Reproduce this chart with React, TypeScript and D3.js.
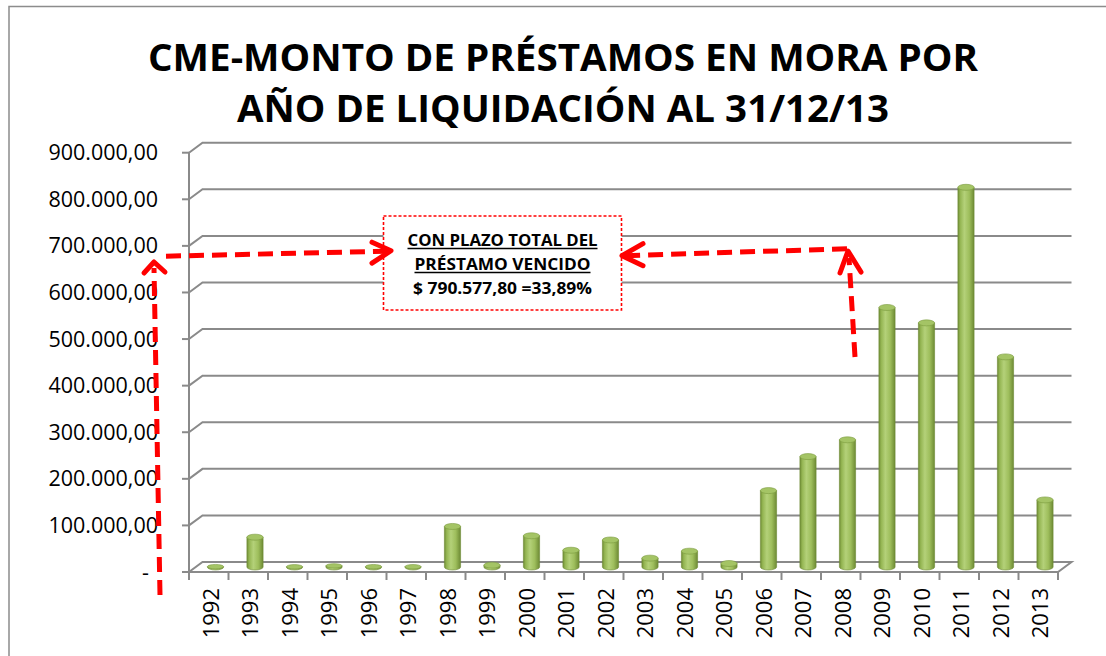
import { useRef, useEffect } from 'react';
import * as d3 from 'd3';

const years = [
  '1992', '1993', '1994', '1995', '1996', '1997', '1998', '1999', '2000', '2001', '2002',
  '2003', '2004', '2005', '2006', '2007', '2008', '2009', '2010', '2011', '2012', '2013',
];
const montos = [
  800, 64000, 500, 2500, 700, 600, 87000, 4000, 67000, 36000, 58000,
  19000, 34000, 7500, 164000, 237000, 273000, 557000, 524000, 815000, 451000, 144000,
];
const yTicks = [0, 100000, 200000, 300000, 400000, 500000, 600000, 700000, 800000, 900000];
const titleLines = ['CME-MONTO DE PRÉSTAMOS EN MORA POR', 'AÑO DE LIQUIDACIÓN AL 31/12/13'];
const noteLines = ['CON PLAZO TOTAL DEL', 'PRÉSTAMO VENCIDO', '$ 790.577,80 =33,89%'];

const W = 1106;
const H = 656;
const FONT = "'Open Sans', 'Noto Sans', sans-serif";

const es = d3.formatLocale({ decimal: ',', thousands: '.', grouping: [3], currency: ['$', ''] });
const fmt = (v: number) => (v === 0 ? '-' : es.format(',.2f')(v));

export default function App() {
  const svgRef = useRef<SVGSVGElement>(null);

  useEffect(() => {
    if (!svgRef.current) return;
    const svg = d3.select(svgRef.current);
    svg.selectAll('*').remove();

    // plot geometry (front face) and 3D depth offset
    const left = 189;
    const right = 1058;
    const bottom = 572;
    const top = 152.7;
    const depthX = 13.5;
    const depthY = -10;

    const x = d3.scaleBand().domain(years).range([left, right]);
    const y = d3.scaleLinear().domain([0, 900000]).range([bottom, top]);

    // outer chart border
    svg.append('rect')
      .attr('x', 9).attr('y', 6.5).attr('width', W).attr('height', H)
      .attr('fill', 'none').attr('stroke', '#8c8c8c').attr('stroke-width', 1.5);

    // title
    svg.append('g').selectAll('text')
      .data(titleLines)
      .enter()
      .append('text')
      .attr('x', 563)
      .attr('y', (_, i) => 71 + i * 51)
      .attr('text-anchor', 'middle')
      .attr('font-family', FONT)
      .attr('font-weight', 700)
      .attr('font-size', 37)
      .attr('fill', '#000')
      .attr('textLength', (_, i) => (i === 0 ? 830 : 652))
      .attr('lengthAdjust', 'spacingAndGlyphs')
      .text((d) => d);

    const grid = '#8a8a8a';

    // floor
    svg.append('path')
      .attr('d', `M${left},${bottom} L${right},${bottom} L${right + depthX},${bottom + depthY} L${left + depthX},${bottom + depthY} Z`)
      .attr('fill', '#fff').attr('stroke', grid).attr('stroke-width', 2);

    // gridlines across side wall and back wall
    svg.append('g').selectAll('path')
      .data(yTicks.filter((t) => t > 0))
      .enter()
      .append('path')
      .attr('d', (t) => `M${left},${y(t)} L${left + depthX},${y(t) + depthY} L${right + depthX},${y(t) + depthY}`)
      .attr('fill', 'none').attr('stroke', grid).attr('stroke-width', 2);

    // y axis
    svg.append('line')
      .attr('x1', left).attr('x2', left).attr('y1', top).attr('y2', bottom)
      .attr('stroke', grid).attr('stroke-width', 2);
    svg.append('g').selectAll('line')
      .data(yTicks)
      .enter()
      .append('line')
      .attr('x1', left - 7).attr('x2', left).attr('y1', (t) => y(t)).attr('y2', (t) => y(t))
      .attr('stroke', grid).attr('stroke-width', 2);
    svg.append('g').selectAll('text')
      .data(yTicks)
      .enter()
      .append('text')
      .attr('x', (t) => (t === 0 ? 149 : 158))
      .attr('y', (t) => y(t))
      .attr('dy', '0.35em')
      .attr('text-anchor', 'end')
      .attr('font-family', FONT)
      .attr('font-size', 21.5)
      .attr('fill', '#000')
      .text((t) => fmt(t));

    // x axis
    svg.append('line')
      .attr('x1', left).attr('x2', right).attr('y1', bottom).attr('y2', bottom)
      .attr('stroke', grid).attr('stroke-width', 2);
    const bounds = years.map((yr) => x(yr)!).concat([right]);
    svg.append('g').selectAll('line')
      .data(bounds)
      .enter()
      .append('line')
      .attr('x1', (d) => d).attr('x2', (d) => d).attr('y1', bottom).attr('y2', bottom + 8)
      .attr('stroke', grid).attr('stroke-width', 2);
    svg.append('g').selectAll('text')
      .data(years)
      .enter()
      .append('text')
      .attr('transform', (d) => `translate(${x(d)! + x.bandwidth() / 2 + 2},588) rotate(-90)`)
      .attr('text-anchor', 'end')
      .attr('dy', '0.36em')
      .attr('font-family', FONT)
      .attr('font-size', 22)
      .attr('fill', '#000')
      .text((d) => d);

    // cylinder bars
    const defs = svg.append('defs');
    const grad = defs.append('linearGradient').attr('id', 'cyl').attr('x1', '0%').attr('x2', '100%');
    [
      ['0%', '#6f8c35'], ['14%', '#94b552'], ['40%', '#b4d179'], ['70%', '#9ebe5c'], ['100%', '#6d8a34'],
    ].forEach(([o, c]) => grad.append('stop').attr('offset', o).attr('stop-color', c));

    const barW = x.bandwidth() * 0.41;
    const ry = 3;
    const cx = (d: string) => x(d)! + x.bandwidth() / 2 + depthX / 2;
    const by = (v: number) => y(v) + depthY / 2;
    const data = years.map((yr, i) => ({ yr, v: montos[i] }));

    const bars = svg.append('g').selectAll('g').data(data).enter().append('g');
    bars.append('path')
      .attr('d', (d) => {
        const x0 = cx(d.yr) - barW / 2;
        const x1 = cx(d.yr) + barW / 2;
        const yb = by(0);
        const yt = by(d.v);
        return `M${x0},${yt} L${x0},${yb} A${barW / 2},${ry} 0 0 0 ${x1},${yb} L${x1},${yt} Z`;
      })
      .attr('fill', 'url(#cyl)')
      .attr('stroke', '#6d8a34').attr('stroke-width', 0.6);
    bars.append('ellipse')
      .attr('cx', (d) => cx(d.yr)).attr('cy', (d) => by(d.v))
      .attr('rx', barW / 2).attr('ry', (d) => (d.v < 3000 ? 2.2 : ry))
      .attr('fill', '#a4c465').attr('stroke', '#7a9a3e').attr('stroke-width', 0.6);

    // annotation box
    svg.append('rect')
      .attr('x', 383.5).attr('y', 216).attr('width', 238).attr('height', 94)
      .attr('fill', '#fff')
      .attr('stroke', '#ff0000').attr('stroke-width', 1.6).attr('stroke-dasharray', '3,2');
    const noteG = svg.append('g');
    const noteW = [190, 176, 179];
    noteLines.forEach((line, i) => {
      noteG.append('text')
        .attr('x', 502.5).attr('y', 245.5 + i * 24)
        .attr('text-anchor', 'middle')
        .attr('font-family', FONT)
        .attr('font-weight', 700)
        .attr('font-size', 16)
        .attr('fill', '#000')
        .attr('textLength', noteW[i])
        .attr('lengthAdjust', 'spacingAndGlyphs')
        .text(line);
      if (i < 2) {
        noteG.append('line')
          .attr('x1', 502.5 - noteW[i] / 2).attr('x2', 502.5 + noteW[i] / 2)
          .attr('y1', 245.5 + i * 24 + 3).attr('y2', 245.5 + i * 24 + 3)
          .attr('stroke', '#000').attr('stroke-width', 1.3);
      }
    });

    // red dashed arrows
    const red = '#ff0000';
    const dash = (pts: [number, number][]) =>
      svg.append('path')
        .attr('d', d3.line()(pts))
        .attr('fill', 'none').attr('stroke', red).attr('stroke-width', 5)
        .attr('stroke-dasharray', '15,8');
    const head = (pts: [number, number][]) =>
      svg.append('path')
        .attr('d', d3.line()(pts))
        .attr('fill', 'none').attr('stroke', red).attr('stroke-width', 5)
        .attr('stroke-linecap', 'round').attr('stroke-linejoin', 'round');

    const yArrow = y(680000);
    // left arrow pair
    dash([[160, 595], [154, 268]]);
    head([[144, 273], [154, 262], [165, 272]]);
    dash([[166, yArrow + 1], [388, yArrow - 4]]);
    head([[372, yArrow - 13], [391, yArrow - 4.5], [372, yArrow + 8]]);
    // right arrow pair
    dash([[855, 357], [849, 258]]);
    head([[840, 273], [848, 251], [861, 272]]);
    dash([[847, yArrow - 6.5], [626, yArrow + 0.5]]);
    head([[643, yArrow - 11.5], [622, yArrow + 0.5], [643, yArrow + 10.5]]);
  }, []);

  return (
    <svg
      ref={svgRef}
      width={W}
      height={H}
      style={{ position: 'fixed', left: 0, top: 0, display: 'block', background: '#fff' }}
    />
  );
}
